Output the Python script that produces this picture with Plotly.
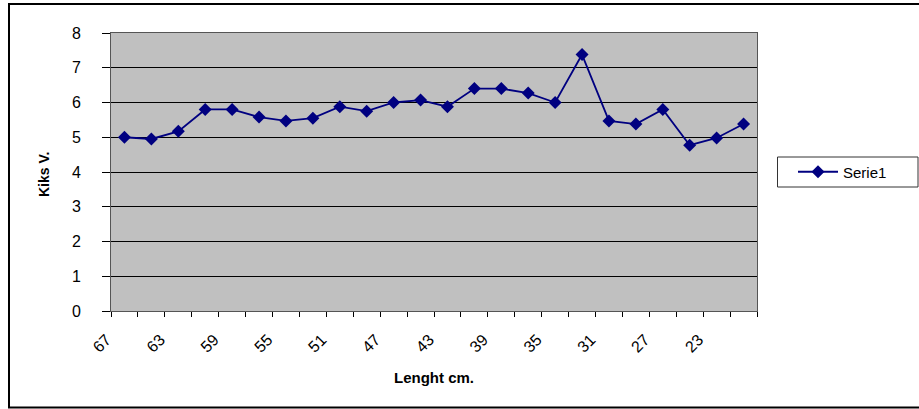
import plotly.graph_objects as go

lengths = [str(v) for v in range(67, 20, -2)]
kiks = [5.0, 4.95, 5.17, 5.8, 5.8, 5.58, 5.47, 5.55, 5.88, 5.75, 6.0, 6.07,
        5.88, 6.4, 6.4, 6.27, 6.0, 7.38, 5.47, 5.38, 5.8, 4.77, 4.98, 5.38]
tick_text = [c if i % 2 == 0 else "" for i, c in enumerate(lengths)]
y_ticks = list(range(0, 9))

W, H = 919, 409
L, R, T, B = 111, 162, 33, 98
pw, ph = W - L - R, H - T - B

def px(x):
    return (x - L) / pw

def py(y):
    return (H - B - y) / ph

fig = go.Figure()
fig.add_trace(go.Scatter(
    x=lengths, y=kiks, mode="lines+markers", name="Serie1",
    line=dict(color="#000080", width=1.8),
    marker=dict(symbol="diamond", size=10, color="#000080"),
))

font = "Liberation Sans, Arial, sans-serif"
fig.update_layout(
    width=W, height=H,
    margin=dict(l=L, r=R, t=T, b=B, pad=0, autoexpand=False),
    paper_bgcolor="white", plot_bgcolor="#C0C0C0",
    font=dict(family=font, size=14, color="black"),
    showlegend=True,
    legend=dict(x=px(793), y=py(172), xanchor="left", yanchor="middle",
                borderwidth=0, bgcolor="rgba(0,0,0,0)",
                font=dict(size=15), itemwidth=40, tracegroupgap=0),
    xaxis=dict(type="category", categoryorder="array", categoryarray=lengths,
               tickvals=lengths, ticktext=tick_text, tickangle=-45,
               tickson="boundaries", ticks="outside", ticklen=5,
               tickcolor="black", showgrid=False, showline=True,
               linecolor="#555555", linewidth=1, mirror=True,
               automargin=False, ticklabelstandoff=12, ticklabelshift=-18,
               tickfont=dict(size=16), range=[-0.5, len(lengths) - 0.5]),
    yaxis=dict(range=[0, 8], tickvals=y_ticks, ticks="outside", ticklen=8,
               tickcolor="black", showgrid=True, gridcolor="black",
               gridwidth=1, showline=True, linecolor="#555555", linewidth=1,
               mirror=True, zeroline=False, automargin=False,
               ticklabelstandoff=18, tickfont=dict(size=16)),
    annotations=[
        dict(text="<b>Lenght cm.</b>", x=0.5, y=py(377), xref="paper",
             yref="paper", showarrow=False, xanchor="center",
             yanchor="middle", font=dict(size=15)),
        dict(text="<b>Kiks V.</b>", x=px(44), y=py(175), xref="paper",
             yref="paper", showarrow=False, textangle=-90,
             xanchor="center", yanchor="middle", font=dict(size=14)),
    ],
    shapes=[
        dict(type="rect", xref="paper", yref="paper",
             x0=px(9), x1=px(940), y0=py(407.5), y1=py(4),
             line=dict(color="black", width=2), layer="below"),
        dict(type="rect", xref="paper", yref="paper",
             x0=px(777.5), x1=px(918), y0=py(187), y1=py(157),
             line=dict(color="#333333", width=1), fillcolor="white",
             layer="below"),
    ],
)

fig.write_html(
    "out.html",
    config={"displayModeBar": False},
    post_script="document.body.style.margin='0';",
)
